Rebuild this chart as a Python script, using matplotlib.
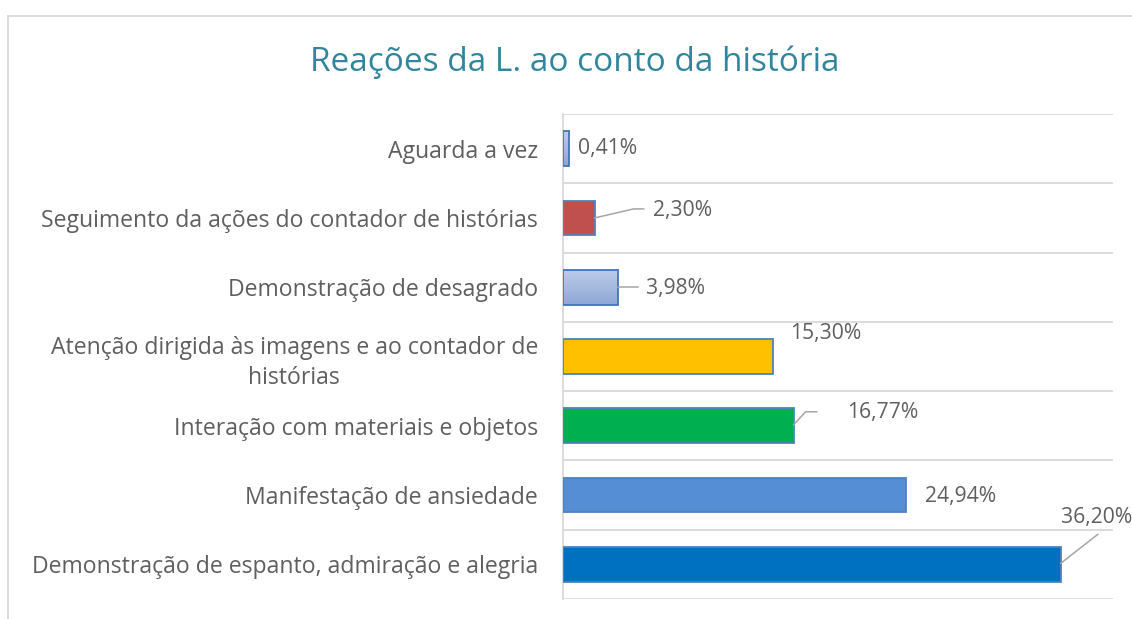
import numpy as np
import matplotlib
matplotlib.use("Agg")
import matplotlib.pyplot as plt
from matplotlib.colors import LinearSegmentedColormap
from matplotlib.lines import Line2D
from matplotlib.transforms import IdentityTransform

# ── Daten ─────────────────────────────────────────────────────────────────────
categorias = [
    "Aguarda a vez",
    "Seguimento da ações do contador de histórias",
    "Demonstração de desagrado",
    "Atenção dirigida às imagens e ao contador de\nhistórias",
    "Interação com materiais e objetos",
    "Manifestação de ansiedade",
    "Demonstração de espanto, admiração e alegria",
]
valores = [0.41, 2.30, 3.98, 15.30, 16.77, 24.94, 36.20]
rotulos = [f"{v:.2f}".replace(".", ",") + "%" for v in valores]

# ── Stil ──────────────────────────────────────────────────────────────────────
cores = [None, "#c0504d", None, "#ffc000", "#00b050", "#558ed5", "#0070c0"]  # None = Verlauf
gradiente = LinearSegmentedColormap.from_list("grad", ["#bccce9", "#8ea7d5"])
cinza = "#5f5f5f"
grade = "#d9d9d9"
plt.rcParams["font.family"] = ["Open Sans", "DejaVu Sans"]

# Label-Versatz (Pixel, rechts / unten) relativ zum Balkenende
versatz = [(9.5, 0), (58.5, -7), (28.5, 1), (17, -23), (54, -13), (19, 1.5), (0, -47)]
# Führungslinien (Pixel relativ zum Balkenende)
linhas = [
    None,
    [(0, 0), (39, -9), (49, -9)],
    [(0, 0), (20, 0)],
    None,
    [(0, -1), (12, -14), (23, -14)],
    None,
    [(0, -1), (37, -30)],
]

fig = plt.figure(figsize=(11.32, 6.19), dpi=100)
ax = fig.add_axes([563 / 1132, 20 / 619, 550 / 1132, 485 / 619])

pos = np.arange(len(valores))
altura = 0.5
for i, v in enumerate(valores):
    if cores[i] is None:
        ax.imshow(np.linspace(0, 1, 50).reshape(-1, 1), cmap=gradiente, aspect="auto",
                  extent=[0, v, i + altura / 2, i - altura / 2], zorder=2)
        ax.barh(i, v, height=altura, color="none", edgecolor="#4472c4", linewidth=1.3, zorder=3)
    else:
        ax.barh(i, v, height=altura, color=cores[i], edgecolor="#4f81bd", linewidth=1.3, zorder=3)

ax.set_xlim(0, 40)
ax.set_ylim(len(valores) - 0.5, -0.5)

# Gitterlinien zwischen Kategorien
ax.set_yticks(pos - 0.5, minor=True)
ax.set_yticks(pos)
ax.set_yticklabels(categorias, fontsize=16.6, color=cinza)
for t in ax.get_yticklabels():
    t.set_multialignment("center")
    t.set_linespacing(1.35)
ax.tick_params(axis="y", which="both", length=0, pad=18)
ax.set_xticks([])
ax.grid(True, axis="y", which="minor", color=grade, linewidth=1.3)
ax.axhline(len(valores) - 0.5, color=grade, linewidth=1.3)
for s in ["top", "right", "bottom"]:
    ax.spines[s].set_visible(False)
ax.spines["left"].set_color(grade)
ax.spines["left"].set_linewidth(1.3)

# Datenlabels
fig.canvas.draw()
for i, v in enumerate(valores):
    dx, dy = versatz[i]
    ax.annotate(rotulos[i], xy=(v, i), xytext=(dx, -dy), textcoords="offset pixels",
                ha="left", va="center", fontsize=15.2, color=cinza, annotation_clip=False)
    if linhas[i] is not None:
        x0, y0 = ax.transData.transform((v, i))
        xs = [x0 + p[0] for p in linhas[i]]
        ys = [y0 - p[1] for p in linhas[i]]
        fig.add_artist(Line2D(xs, ys, color="#a6a6a6", linewidth=1.1,
                              transform=IdentityTransform()))

# Titel
fig.text(575 / 1132, 1 - 62 / 619, "Reações da L. ao conto da história",
         ha="center", va="center", fontsize=24, color="#31859c")

# Diagrammrahmen (links und oben)
fig.add_artist(Line2D([8 / 1132, 8 / 1132], [0, 1 - 16 / 619], color=grade, linewidth=1.3))
fig.add_artist(Line2D([8 / 1132, 1], [1 - 16 / 619, 1 - 16 / 619], color=grade, linewidth=1.3))

plt.savefig("out.png", dpi=100)
